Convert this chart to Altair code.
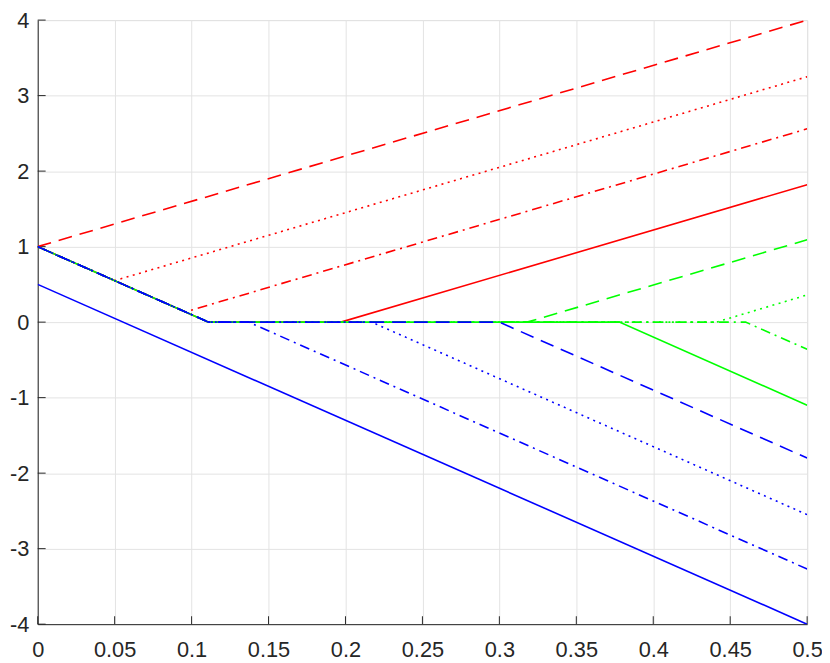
import altair as alt
import pandas as pd

# x tick values and y tick values
x_ticks = [0, 0.05, 0.1, 0.15, 0.2, 0.25, 0.3, 0.35, 0.4, 0.45, 0.5]
y_ticks = [-4, -3, -2, -1, 0, 1, 2, 3, 4]

# series breakpoints
red_dash_x = [0, 0.5]
red_dash_y = [1, 4]
red_dot_x = [0, 0.05, 0.5]
red_dot_y = [1, 0.55, 3.25]
red_dashdot_x = [0, 0.096, 0.5]
red_dashdot_y = [1, 0.136, 2.56]
red_solid_x = [0, 0.111, 0.197, 0.5]
red_solid_y = [1, 0, 0, 1.82]

green_dash_x = [0, 0.111, 0.318, 0.5]
green_dash_y = [1, 0, 0, 1.09]
green_dot_x = [0, 0.111, 0.441, 0.5]
green_dot_y = [1, 0, 0, 0.36]
green_dashdot_x = [0, 0.111, 0.46, 0.5]
green_dashdot_y = [1, 0, 0, -0.36]
green_solid_x = [0, 0.111, 0.378, 0.5]
green_solid_y = [1, 0, 0, -1.1]

blue_dash_x = [0, 0.111, 0.3, 0.5]
blue_dash_y = [1, 0, 0, -1.8]
blue_dot_x = [0, 0.111, 0.217, 0.5]
blue_dot_y = [1, 0, 0, -2.55]
blue_dashdot_x = [0, 0.111, 0.137, 0.5]
blue_dashdot_y = [1, 0, 0, -3.27]
blue_solid_x = [0, 0.5]
blue_solid_y = [0.5, -4]

RED, GREEN, BLUE = "#ff0000", "#00ff00", "#0000ff"
DASH = [14, 8]
DOT = [2, 4.5]
DASHDOT = [10, 5, 2, 5]

series = [
    (red_dash_x, red_dash_y, RED, DASH),
    (red_dot_x, red_dot_y, RED, DOT),
    (red_dashdot_x, red_dashdot_y, RED, DASHDOT),
    (red_solid_x, red_solid_y, RED, None),
    (green_dash_x, green_dash_y, GREEN, DASH),
    (green_dot_x, green_dot_y, GREEN, DOT),
    (green_dashdot_x, green_dashdot_y, GREEN, DASHDOT),
    (green_solid_x, green_solid_y, GREEN, None),
    (blue_dash_x, blue_dash_y, BLUE, DASH),
    (blue_dot_x, blue_dot_y, BLUE, DOT),
    (blue_dashdot_x, blue_dashdot_y, BLUE, DASHDOT),
    (blue_solid_x, blue_solid_y, BLUE, None),
]

FONT = "Liberation Sans"
AXC = "#262626"
GRID = "#e3e3e3"
TICK_LEN = 8
label_expr = "'' + datum.value"

x_scale = alt.Scale(domain=[0, 0.5], nice=False, zero=False)
y_scale = alt.Scale(domain=[-4, 4], nice=False, zero=False)

x_axis = alt.Axis(values=x_ticks, labelExpr=label_expr, title=None, grid=True,
                  gridColor=GRID, gridWidth=1, ticks=False, domain=True,
                  domainColor=AXC, domainWidth=1, labelFont=FONT, labelFontSize=22,
                  labelColor=AXC, labelPadding=16, labelFlush=False, orient="bottom")
y_axis = alt.Axis(values=y_ticks, labelExpr=label_expr, title=None, grid=True,
                  gridColor=GRID, gridWidth=1, ticks=False, domain=True,
                  domainColor=AXC, domainWidth=1, labelFont=FONT, labelFontSize=22,
                  labelColor=AXC, labelPadding=9, labelFlush=False, orient="left")

layers = []

# inward tick marks, placed through the scales at the tick values
xt = alt.Chart(pd.DataFrame({"v": x_ticks})).mark_rule(
    color=AXC, strokeWidth=1, y2Offset=-TICK_LEN
).encode(
    x=alt.X("v:Q", scale=x_scale, axis=x_axis),
    y=alt.YDatum(datum=y_ticks[0], scale=y_scale, axis=y_axis),
    y2=alt.Y2Datum(datum=y_ticks[0]),
)
yt = alt.Chart(pd.DataFrame({"v": y_ticks})).mark_rule(
    color=AXC, strokeWidth=1, x2Offset=TICK_LEN
).encode(
    y=alt.Y("v:Q", scale=y_scale, axis=y_axis),
    x=alt.XDatum(datum=x_ticks[0], scale=x_scale, axis=x_axis),
    x2=alt.X2Datum(datum=x_ticks[0]),
)
layers += [xt, yt]

for xs, ys, col, dash in series:
    df = pd.DataFrame({"x": xs, "y": ys})
    kw = dict(color=col, strokeWidth=1.6, clip=True)
    if dash is not None:
        kw["strokeDash"] = dash
    layers.append(
        alt.Chart(df).mark_line(**kw).encode(
            x=alt.X("x:Q", scale=x_scale, axis=x_axis),
            y=alt.Y("y:Q", scale=y_scale, axis=y_axis),
        )
    )

chart = alt.layer(*layers).properties(
    width=777, height=610,
    padding={"left": 30, "top": 9, "right": 15, "bottom": 35},
    autosize=alt.AutoSizeParams(type="none"),
).configure_view(stroke=None).configure(background="white")

chart.save("out.html", embed_options={"renderer": "svg", "actions": False})
